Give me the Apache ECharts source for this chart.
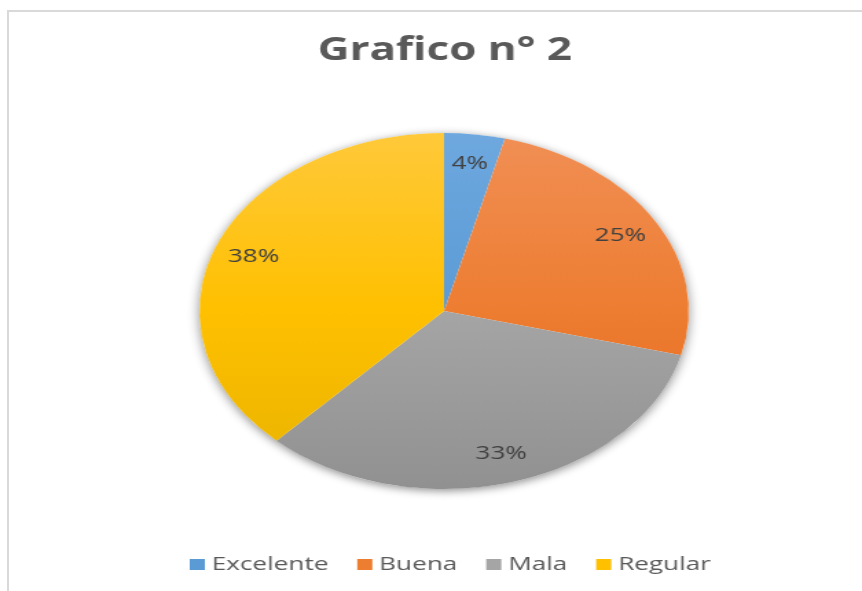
<!DOCTYPE html>
<html>
<head>
<meta charset="utf-8">
<script src="https://cdn.jsdelivr.net/npm/echarts@6/dist/echarts.min.js"></script>
<style>
    body { margin: 0; background: #fff; overflow: hidden; }
    #frame {
        position: absolute; left: 7px; top: 10px; width: 900px; height: 600px;
        border-left: 2px solid #d9d9d9; border-top: 2px solid #d9d9d9;
    }
    /* the source picture is a normal chart stretched sideways */
    #main__pie {
        position: absolute; left: 0; top: 0; width: 627px; height: 591px;
        transform: scaleX(1.3748); transform-origin: 0 0;
    }
</style>
</head>
<body>
<div id="frame"></div>
<div id="main__pie"></div>
<script>
const CATEGORIES = ['Excelente', 'Buena', 'Mala', 'Regular'];
const VALUES = [4, 25, 33, 38];

const COLORS = ['#5b9bd5', '#ed7d31', '#a5a5a5', '#ffc000'];
const COLORS_TOP = ['#6ea8df', '#f18f55', '#b5b5b5', '#ffc93a'];
const COLORS_BOTTOM = ['#4b88c7', '#e5661a', '#919191', '#e8b300'];

const CX = 323, CY = 311, R = 178;

const total = VALUES.reduce((a, b) => a + b, 0);

function sliceColor(i) {
    // one vertical gradient across the whole pie
    return new echarts.graphic.LinearGradient(0, CY - R, 0, CY + R, [
        {offset: 0, color: COLORS_TOP[i]},
        {offset: 0.5, color: COLORS[i]},
        {offset: 1, color: COLORS_BOTTOM[i]}
    ], true);
}

function initPie() {
    let chartDom = document.getElementById('main__pie');
    let myChart = echarts.init(chartDom);
    let option;

    let pieData = CATEGORIES.map((name, i) => ({
        name: name,
        value: VALUES[i],
        itemStyle: {color: sliceColor(i)}
    }));

    option = {
        animation: false,
        title: {
            text: 'Grafico n° 2',
            left: 226,
            top: 30,
            textStyle: {fontFamily: 'Open Sans', fontWeight: 'bold', fontSize: 32, color: '#595959'}
        },
        legend: {
            data: CATEGORIES.map((name, i) => ({name: name, itemStyle: {color: COLORS[i]}})),
            left: 133,
            top: 550,
            icon: 'rect',
            itemWidth: 11,
            itemHeight: 11,
            itemGap: 21,
            textStyle: {fontFamily: 'Open Sans', fontSize: 19, color: '#595959'}
        },
        series: [
            {
                // shadow under the pie
                type: 'pie',
                name: 'sombra',
                silent: true,
                z: 1,
                center: [CX, CY],
                radius: [0, R],
                label: {show: false},
                labelLine: {show: false},
                itemStyle: {color: '#fff', shadowBlur: 8, shadowColor: 'rgba(0,0,0,0.45)', shadowOffsetY: 2},
                data: [{name: 'total', value: total}]
            },
            {
                type: 'pie',
                name: 'Grafico n° 2',
                z: 2,
                center: [CX, CY],
                radius: [0, R],
                startAngle: 90,
                clockwise: true,
                label: {show: false},
                labelLine: {show: false},
                emphasis: {disabled: true},
                data: pieData
            },
            {
                // transparent ring that only carries the percentage labels
                type: 'pie',
                name: 'etiquetas',
                silent: true,
                z: 3,
                center: [CX, CY],
                radius: [114, R],
                startAngle: 90,
                clockwise: true,
                itemStyle: {color: 'rgba(0,0,0,0)'},
                labelLine: {show: false},
                label: {
                    show: true,
                    position: 'inside',
                    formatter: (p) => Math.round(p.value / total * 100) + '%',
                    fontFamily: 'Open Sans',
                    fontSize: 19,
                    color: '#404040'
                },
                data: CATEGORIES.map((name, i) => ({name: name, value: VALUES[i]}))
            }
        ]
    };

    option && myChart.setOption(option);
}

initPie();
</script>
</body>
</html>
